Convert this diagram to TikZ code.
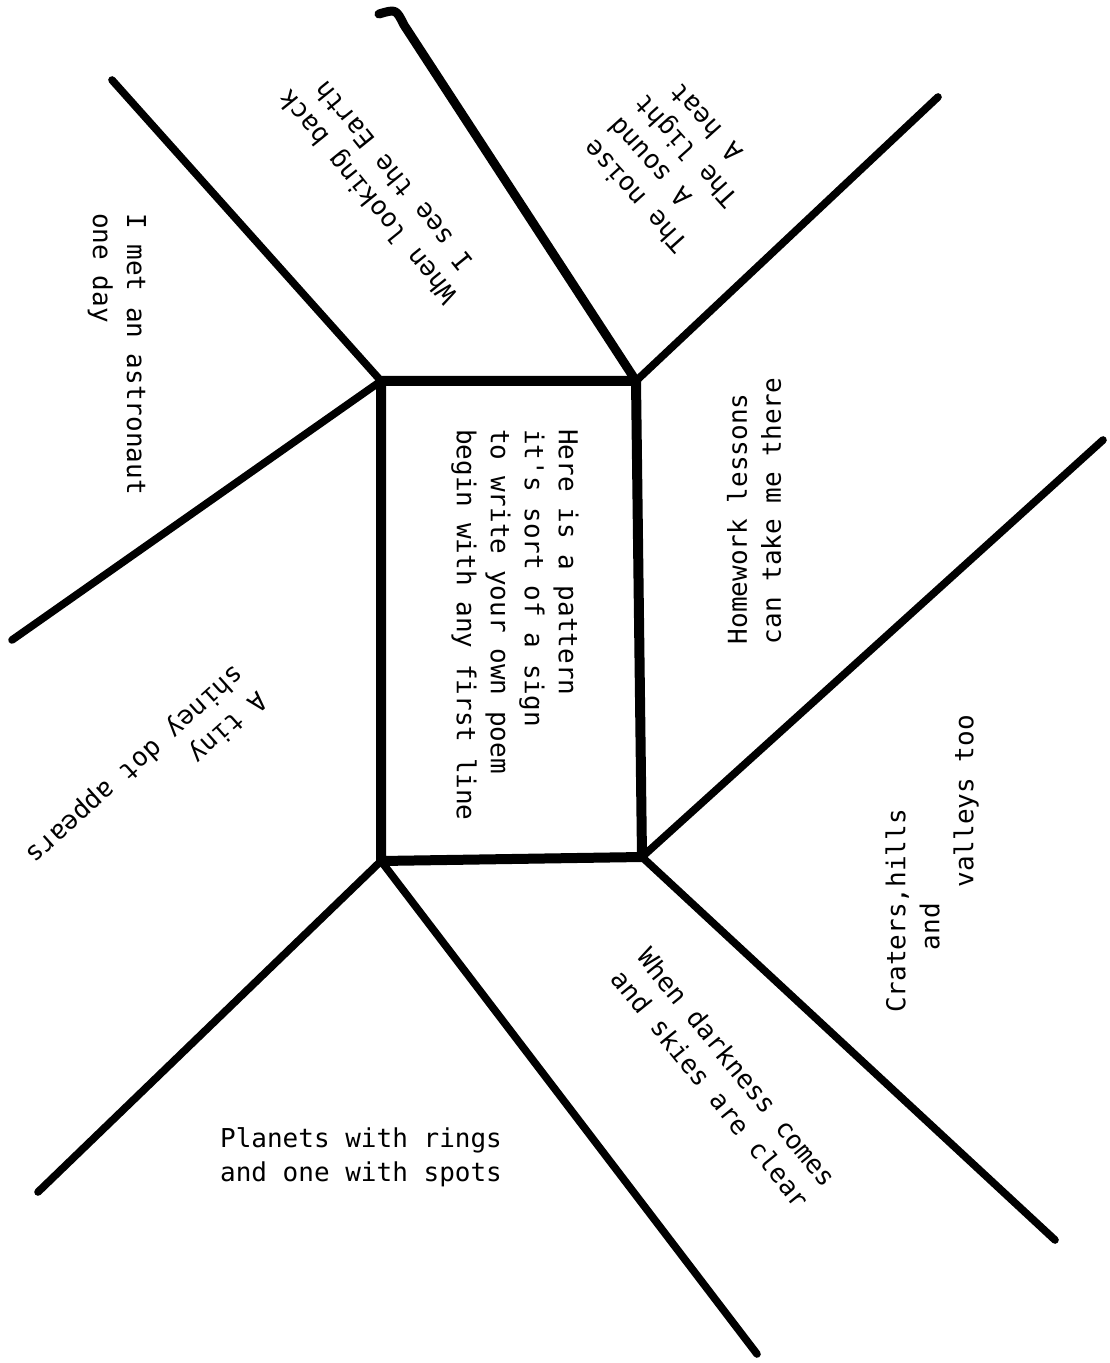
\documentclass[tikz,border=0pt]{standalone}
\usepackage{fontspec}
\usepackage{tikz}
\usetikzlibrary{calc}
\newfontfamily\typewriter{DejaVu Sans Mono}

\begin{document}
\begin{tikzpicture}[x=0.5pt,y=-0.5pt,
  spoke/.style={line width=3.8pt,line cap=round,line join=round},
  verse/.style={font=\typewriter\fontsize{13}{17}\selectfont,align=left,inner sep=0pt}]
\fill[white] (0,0) rectangle (1109,1363);
\useasboundingbox (0,0) rectangle (1109,1363);

%%% CENTRAL FRAME
% corners of the frame
\coordinate (tl) at (381,381);
\coordinate (tr) at (636,381);
\coordinate (br) at (642,857);
\coordinate (bl) at (381,861);
\draw[line width=5pt,line join=round] (tl) -- (tr) -- (br) -- (bl) -- cycle;

% free ends of the spokes
\coordinate (ul) at (112,80);
\coordinate (ll) at (12,640);
\coordinate (bend) at (404,25);
\coordinate (hook) at (379,14);
\coordinate (ur) at (938,97);
\coordinate (rr) at (1103,440);
\coordinate (dr) at (1055,1240);
\coordinate (db) at (757,1354);
\coordinate (dl) at (38,1192);

% spokes, clockwise from the top left corner
\foreach \c/\e in {tl/ul,tl/ll,tr/ur,br/rr,br/dr,bl/db,bl/dl}
  \draw[spoke] (\c) -- (\e);
\draw[spoke,line width=4.5pt] (tr) -- (bend) .. controls (396,9) .. (hook);

%%% VERSES
% one node per wedge, turned to follow the wedge
\node[verse,rotate=-90] (poem) at (515,625)
  {Here is a pattern\\it's sort of a sign\\to write your own poem\\begin with any first line};
\node[verse,rotate=-90] (astro) at (117,354) {I met an astronaut\\one day};
\node[verse,rotate=129] (earth) at (380,187) {When looking back\\\phantom{x}I see the Earth};
\node[verse,rotate=132] (noise) at (673,163)
  {The noise\\\phantom{xx}A sound\\The light\\\phantom{xx}A heat};
\node[verse,rotate=90] (homework) at (754,511) {Homework lessons\\can take me there};
\node[verse,rotate=90] (craters) at (932,864)
  {Craters,hills\\\phantom{xxxx}and\\\phantom{xxxxxxxx}valleys too};
\node[verse,rotate=-51] (darkness) at (724,1078) {When darkness comes\\and skies are clear};
\node[verse] (planets) at (361,1157) {Planets with rings\\and one with spots};
\node[verse,rotate=222] (dot) at (146,777) {A tiny\\shiney dot appears};
\end{tikzpicture}
\end{document}
